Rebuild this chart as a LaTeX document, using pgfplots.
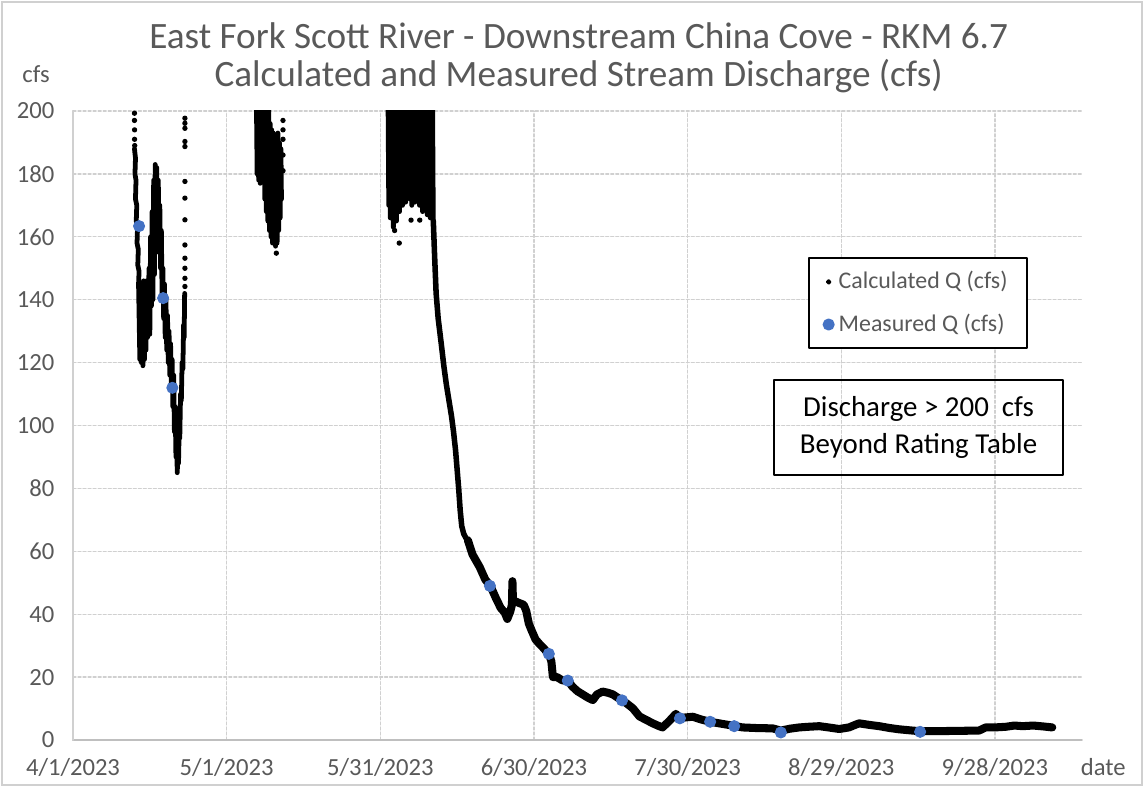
\documentclass[border=0pt]{standalone}
\usepackage{fontspec}
\setmainfont{Carlito}
\usepackage{pgfplots}
\pgfplotsset{compat=1.18}
\definecolor{txtgray}{HTML}{595959}
\definecolor{gridgray}{HTML}{D0D0D0}
\definecolor{axgray}{HTML}{BFBFBF}
\definecolor{mblue}{HTML}{4472C4}
\begin{document}
\begin{tikzpicture}
\path[use as bounding box] (-29.05pt,-18.70pt) rectangle (426.18pt,294.47pt);
\draw[gridgray, line width=0.6pt] (-28.2pt,-17.9pt) rectangle (425.3pt,293.6pt);
\begin{axis}[
  at={(0pt,0pt)}, anchor=south west,
  scale only axis, width=401.5pt, height=250.3pt,
  xmin=0, xmax=197, ymin=0, ymax=200,
  xtick={0,30,60,90,120,150,180},
  xticklabels={4/1/2023,5/1/2023,5/31/2023,6/30/2023,7/30/2023,8/29/2023,9/28/2023},
  ytick={0,20,...,200},
  major tick length=0pt,
  grid=major,
  major grid style={gridgray, line width=0.5pt, dash pattern=on 1.2pt off 0.8pt},
  axis x line*=bottom, axis y line*=left,
  x axis line style={-, axgray, line width=0.8pt},
  y axis line style={-, gridgray, line width=0.6pt},
  /pgf/number format/assume math mode=true,
  ticklabel style={font=\fontsize{9.8}{11}\selectfont, text=txtgray},
  xticklabel style={anchor=base, yshift=-14.3pt},
  yticklabel style={anchor=east, xshift=-3.9pt},
  legend style={at={(axis description cs:0.7285,0.7679)}, anchor=north west,
    draw=black, line width=0.8pt, font=\fontsize{9.5}{11}\selectfont, text=txtgray,
    inner xsep=5.8pt, inner ysep=3.3pt, row sep=4.5pt},
  legend cell align=left,
  line cap=round, line join=round,
]
\addlegendimage{only marks, mark=*, mark size=0.7pt, black}
\addlegendentry{Calculated Q (cfs)}
\addlegendimage{only marks, mark=*, mark size=2pt, mblue}
\addlegendentry{Measured Q (cfs)}

% --- Calculated Q, April pulse
\addplot[forget plot, black, line width=1.9pt] coordinates {
(12.0,188)(12.2,185)(12.1,180)(12.3,178)(12.2,172)(12.45,170)(12.35,165)(12.6,163)(12.5,158)(12.75,156)(12.65,151)(12.9,149)(12.8,145)
(13.05,121)(13.2,145)(13.35,120)(13.5,144)(13.65,119)(13.8,146)(13.95,121)(14.1,143)(14.25,124)(14.4,146)(14.55,128)(14.7,140)
(14.85,150)(15.0,129)(15.15,160)(15.3,138)(15.45,168)(15.6,140)(15.75,178)(15.9,148)(16.05,183)(16.2,155)(16.35,182)(16.5,160)
(16.65,178)(16.8,158)(16.95,170)(17.1,150)(17.25,162)(17.4,140)(17.55,150)(17.7,134)(17.85,145)(18.0,128)(18.15,140)(18.3,124)
(18.45,135)(18.6,120)(18.75,130)(18.9,116)(19.05,126)(19.2,112)(19.35,121)(19.5,106)(19.65,116)(19.8,98)(19.95,106)(20.1,90)
(20.25,96)(20.35,85)(20.5,92)(20.6,88)(20.75,100)(20.85,96)(21.0,110)(21.15,108)(21.3,120)(21.45,118)(21.6,132)(21.7,128)(21.8,142)
};
\addplot[forget plot, black, only marks, mark=*, mark size=0.85pt] coordinates {
(12.0,199.3)(12.0,197)(12.02,194)(12.02,191)(12.05,189)
(21.85,197.7)(21.85,196.1)(21.85,194.5)(21.85,190.3)(21.85,188.7)(21.85,177.6)(21.85,172.3)
(21.85,165.4)(21.85,157.4)(21.85,153.2)(21.85,150.0)(21.85,146.8)(21.85,144.2)
};
% --- late April / early May
\addplot[forget plot, black, line width=1.9pt] coordinates {
(35.8,205)(35.95,180)(36.1,205)(36.25,178)(36.4,205)(36.55,177)(36.7,205)(36.85,178)(37.0,205)(37.15,178)
(37.3,205)(37.45,172)(37.6,205)(37.75,168)(37.9,200)(38.05,165)(38.2,205)(38.35,162)(38.5,196)(38.65,160)
(38.8,194)(38.95,158)(39.1,193)(39.25,159)(39.4,192)(39.55,157)(39.7,192)(39.85,158)(40.0,193)(40.15,162)
(40.3,190)(40.45,166)(40.6,188)(40.7,172)
};
\addplot[forget plot, black, only marks, mark=*, mark size=0.85pt] coordinates {
(39.7,154.8)(41.0,197)(41.0,194)(41.0,191)(41.0,186)(41.0,181)
};
% --- June high flow
\addplot[forget plot, black, line width=1.9pt] coordinates {
(61.50,205)(61.65,170)(61.80,205)(61.95,166)(62.10,205)(62.25,168)(62.40,205)(62.55,163)(62.70,205)(62.85,167)
(63.00,205)(63.15,165)(63.30,205)(63.45,170)(63.60,205)(63.75,168)(63.90,205)(64.05,172)(64.20,205)(64.35,170)
(64.50,205)(64.65,174)(64.80,205)(64.95,171)(65.10,205)(65.25,173)(65.40,205)(65.55,175)(65.70,205)(65.85,172)
(66.00,205)(66.15,170)(66.30,205)(66.45,173)(66.60,205)(66.75,171)(66.90,205)(67.05,174)(67.20,205)(67.35,172)
(67.50,205)(67.65,170)(67.80,205)(67.95,173)(68.10,205)(68.25,168)(68.40,205)(68.55,171)(68.70,205)(68.85,169)
(69.00,205)(69.15,167)(69.30,205)(69.45,170)(69.60,205)(69.75,166)(69.90,205)(70.05,168)(70.20,205)(70.35,165)
};
\addplot[forget plot, black, only marks, mark=*, mark size=0.85pt] coordinates {
(63.7,158)(62.8,162)(66.0,165.3)(67.7,165.3)
};
% --- recession (steep part)
\addplot[forget plot, black, line width=2.2pt] coordinates {
(70.35,165)(70.6,154)(70.9,142)(71.3,134)(71.9,126)(72.4,119)(72.9,113)(73.4,108)(73.9,103)(74.3,98)
(74.7,92)(75.0,86)(75.3,80)(75.6,73)(75.9,68)(76.3,65.5)(76.8,64)(77.1,63.5)
};
% --- recession (summer)
\addplot[forget plot, black, line width=3.2pt] coordinates {
(77.1,63.5)(78.0,59)(79.4,55)(80.5,51)(81.5,49)(82.6,45)(83.5,42)(84.3,40.5)(84.8,38.5)(85.4,41)
(85.7,43)(85.8,50.5)(85.9,44)(86.5,44)(87.2,43.5)(88.0,43)(88.5,41)(89.0,37)(89.5,35)(90.3,32)
(91.1,30.5)(92.0,29)(93.0,27)(93.4,25)(93.7,20)(94.5,20)(95.5,19)(96.6,18.9)(97.5,17)(98.5,15.5)
(99.5,14.5)(100.5,13.5)(101.5,12.7)(102.3,14.5)(103.4,15.4)(104.5,15)(105.4,14.5)(106.3,13.5)(107.2,12.7)(108.2,11.5)
(109.3,10.1)(110.6,7.5)(111.9,6.4)(113.2,5.3)(114.3,4.5)(115.1,4.0)(116.4,6.0)(117.7,8.3)(118.5,7.0)(121.0,7.4)
(122.7,6.5)(124.4,5.8)(126.5,5.2)(129.1,4.5)(130.7,4.0)(133.5,3.8)(136.6,3.7)(138.2,3.0)(140.0,3.6)(141.8,4.0)
(143.5,4.2)(145.7,4.4)(147.5,4.0)(149.6,3.5)(151.5,4.0)(153.0,5.0)(153.5,5.3)(155.5,4.8)(157.4,4.4)(159.5,3.8)
(161.3,3.4)(163.9,3.0)(165.4,2.8)(168.0,2.8)(172.4,2.9)(176.9,3.0)(178.2,4.0)(180.0,4.0)(182.1,4.2)(183.8,4.6)
(185.4,4.4)(187.5,4.6)(189.5,4.3)(191.2,4.0)
};
% --- Measured Q
\addplot[forget plot, only marks, mark=*, mark size=2.2pt, color=mblue] coordinates {
(12.9,163.4)(17.6,140.5)(19.4,112)(81.4,49.0)(92.9,27.4)(96.6,18.9)(107.2,12.6)(118.5,6.9)(124.4,5.8)(129.1,4.4)(138.2,2.4)(165.4,2.6)
};
\node[draw=black, line width=0.8pt, minimum width=115pt, minimum height=37.8pt, align=center,
  font=\fontsize{11.5}{14.6}\selectfont] at (axis description cs:0.838,0.4968)
  {Discharge > 200\ \ cfs\\Beyond Rating Table};
\end{axis}
\node[anchor=base, text=txtgray, font=\fontsize{14.8}{17}\selectfont, inner sep=0pt] at (201.2pt,275.0pt)
  {East Fork Scott River - Downstream China Cove - RKM 6.7};
\node[anchor=base, text=txtgray, font=\fontsize{14.8}{17}\selectfont, inner sep=0pt] at (201.2pt,260.0pt)
  {Calculated and Measured Stream Discharge (cfs)};
\node[anchor=base, text=txtgray, font=\fontsize{9.8}{11}\selectfont, inner sep=0pt] at (-14.7pt,261.8pt) {cfs};
\node[anchor=base, text=txtgray, font=\fontsize{9.8}{11}\selectfont, inner sep=0pt] at (410pt,-14.3pt) {date};
\end{tikzpicture}
\end{document}
